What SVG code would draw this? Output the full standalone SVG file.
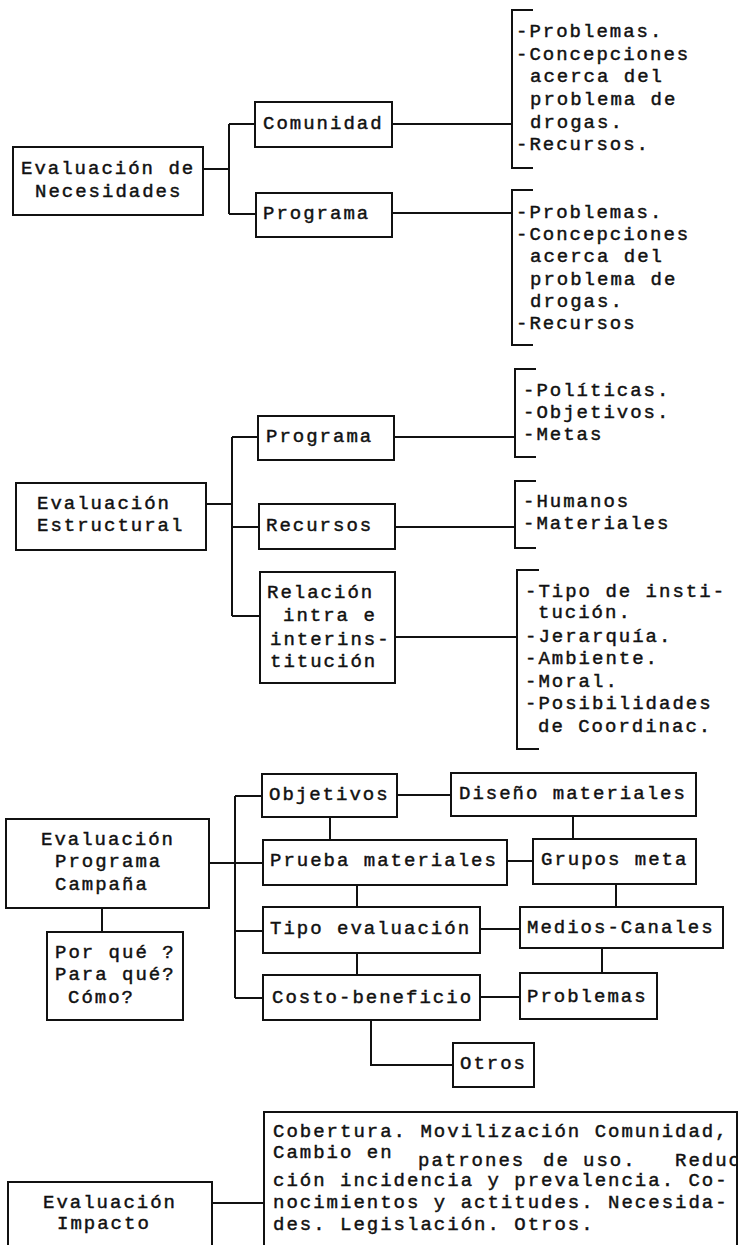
<svg xmlns="http://www.w3.org/2000/svg" width="741" height="1245" viewBox="0 0 741 1245">
<style>
  .bg { fill: #ffffff; }
  .box { fill: #ffffff; stroke: #111111; stroke-width: 2; }
  .ln { fill: none; stroke: #111111; stroke-width: 2; }
  text { font-family: "Liberation Mono", "DejaVu Sans Mono", monospace; font-size: 19px; letter-spacing: 2px; fill: #111111; stroke: #111111; stroke-width: 0.45; }
</style>
<defs>
  <clipPath id="clipImpacto">
    <rect x="264" y="1112" width="473" height="140"/>
  </clipPath>
</defs>
<rect class="bg" x="0" y="0" width="741" height="1245"/>

<g id="connectors">
  <!-- section 1 -->
  <path class="ln" d="M203,169 H229 M229,124 V214 M229,124 H255 M229,214 H256 M392,124 H512 M392,213 H512"/>
  <path class="ln" d="M533,10 H512 V168 H533"/>
  <path class="ln" d="M533,190 H512 V345 H533"/>
  <!-- section 2 -->
  <path class="ln" d="M206,504 H232 M232,437 V616 M232,437 H258 M232,527 H259 M232,616 H260 M394,437 H515 M395,527 H515 M395,637 H517"/>
  <path class="ln" d="M536,369 H515 V457 H536"/>
  <path class="ln" d="M536,481 H515 V548 H536"/>
  <path class="ln" d="M539,570 H517 V749 H539"/>
  <!-- section 3 -->
  <path class="ln" d="M209,863 H235 M235,796 V998 M235,796 H262 M235,863 H263 M235,931 H263 M235,998 H263"/>
  <path class="ln" d="M397,795 H451 M330,817 V840 M573,816 V839 M507,861 H533 M357,885 V907 M616,884 V907 M480,929 H520 M357,953 V975 M602,948 V973 M480,997 H520 M371,1020 V1065 H453 M102,908 V932"/>
  <!-- section 4 -->
  <path class="ln" d="M212,1203 H264"/>
</g>

<g id="list-comunidad">
  <text x="516" y="37">-Problemas.</text>
  <text x="516" y="60">-Concepciones</text>
  <text x="530" y="82">acerca del</text>
  <text x="530" y="105">problema de</text>
  <text x="530" y="128">drogas.</text>
  <text x="516" y="150">-Recursos.</text>
</g>
<g id="list-programa1">
  <text x="516" y="218">-Problemas.</text>
  <text x="516" y="240">-Concepciones</text>
  <text x="530" y="262">acerca del</text>
  <text x="530" y="285">problema de</text>
  <text x="530" y="307">drogas.</text>
  <text x="516" y="329">-Recursos</text>
</g>
<g id="list-programa2">
  <text x="523" y="396">-Políticas.</text>
  <text x="523" y="418">-Objetivos.</text>
  <text x="523" y="440">-Metas</text>
</g>
<g id="list-recursos">
  <text x="523" y="507">-Humanos</text>
  <text x="523" y="529">-Materiales</text>
</g>
<g id="list-relacion">
  <text x="525" y="597">-Tipo de insti-</text>
  <text x="538" y="618">tución.</text>
  <text x="525" y="642">-Jerarquía.</text>
  <text x="525" y="664">-Ambiente.</text>
  <text x="525" y="687">-Moral.</text>
  <text x="525" y="709">-Posibilidades</text>
  <text x="538" y="732">de Coordinac.</text>
</g>

<g id="n-necesidades">
  <rect class="box" x="13" y="147" width="190" height="68"/>
  <text x="21" y="174">Evaluación de</text>
  <text x="35" y="197">Necesidades</text>
</g>
<g id="n-comunidad">
  <rect class="box" x="255" y="102" width="137" height="45"/>
  <text x="263" y="129">Comunidad</text>
</g>
<g id="n-programa1">
  <rect class="box" x="256" y="193" width="136" height="44"/>
  <text x="263" y="219">Programa</text>
</g>

<g id="n-estructural">
  <rect class="box" x="16" y="483" width="190" height="67"/>
  <text x="37" y="509">Evaluación</text>
  <text x="37" y="531">Estructural</text>
</g>
<g id="n-programa2">
  <rect class="box" x="258" y="416" width="136" height="44"/>
  <text x="266" y="442">Programa</text>
</g>
<g id="n-recursos">
  <rect class="box" x="259" y="504" width="136" height="45"/>
  <text x="266" y="531">Recursos</text>
</g>
<g id="n-relacion">
  <rect class="box" x="260" y="572" width="135" height="111"/>
  <text x="267" y="598">Relación</text>
  <text x="283" y="621">intra e</text>
  <text x="270" y="645">interins-</text>
  <text x="270" y="667">titución</text>
</g>

<g id="n-campana">
  <rect class="box" x="6" y="819" width="203" height="89"/>
  <text x="41" y="845">Evaluación</text>
  <text x="55" y="867">Programa</text>
  <text x="55" y="890">Campaña</text>
</g>
<g id="n-porque">
  <rect class="box" x="47" y="932" width="136" height="88"/>
  <text x="55" y="958">Por qué ?</text>
  <text x="55" y="980">Para qué?</text>
  <text x="68" y="1003">Cómo?</text>
</g>
<g id="n-objetivos">
  <rect class="box" x="262" y="774" width="135" height="43"/>
  <text x="269" y="800">Objetivos</text>
</g>
<g id="n-diseno">
  <rect class="box" x="451" y="773" width="245" height="43"/>
  <text x="459" y="799">Diseño materiales</text>
</g>
<g id="n-prueba">
  <rect class="box" x="263" y="840" width="244" height="45"/>
  <text x="270" y="866">Prueba materiales</text>
</g>
<g id="n-grupos">
  <rect class="box" x="533" y="839" width="163" height="45"/>
  <text x="541" y="865">Grupos meta</text>
</g>
<g id="n-tipo">
  <rect class="box" x="263" y="907" width="217" height="46"/>
  <text x="270" y="934">Tipo evaluación</text>
</g>
<g id="n-medios">
  <rect class="box" x="520" y="907" width="203" height="41"/>
  <text x="527" y="933">Medios-Canales</text>
</g>
<g id="n-costo">
  <rect class="box" x="263" y="975" width="217" height="45"/>
  <text x="272" y="1003">Costo-beneficio</text>
</g>
<g id="n-problemas">
  <rect class="box" x="520" y="973" width="137" height="46"/>
  <text x="527" y="1002">Problemas</text>
</g>
<g id="n-otros">
  <rect class="box" x="453" y="1043" width="81" height="44"/>
  <text x="460" y="1069">Otros</text>
</g>

<g id="n-impacto">
  <rect class="box" x="8" y="1182" width="204" height="80"/>
  <text x="43" y="1208">Evaluación</text>
  <text x="57" y="1229">Impacto</text>
</g>
<g id="n-impacto-detalle">
  <rect class="box" x="264" y="1112" width="473" height="150"/>
  <g clip-path="url(#clipImpacto)">
    <text x="273" y="1137">Cobertura. Movilización Comunidad,</text>
    <text x="273" y="1158">Cambio en</text>
    <text y="1166"><tspan x="418">patrones</tspan><tspan x="543">de</tspan><tspan x="583">uso.</tspan><tspan x="675">Reduc</tspan></text>
    <text x="273" y="1186">ción incidencia y prevalencia. Co-</text>
    <text x="273" y="1208">nocimientos y actitudes. Necesida-</text>
    <text x="273" y="1230">des. Legislación. Otros.</text>
  </g>
  <line class="ln" x1="737" y1="1112" x2="737" y2="1245"/>
</g>
</svg>
